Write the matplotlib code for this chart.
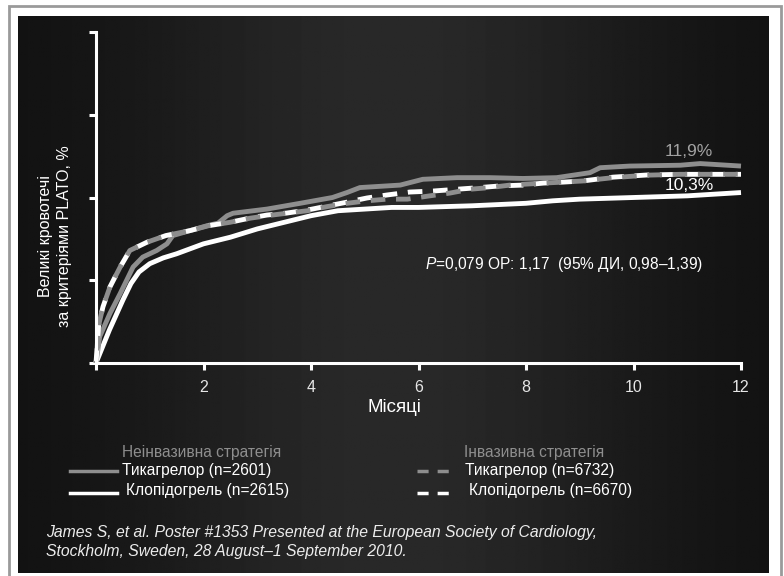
import numpy as np
import matplotlib.pyplot as plt
from matplotlib.patches import Rectangle
from matplotlib.lines import Line2D

plt.rcParams['font.family'] = ['Liberation Sans', 'DejaVu Sans']
plt.rcParams['mathtext.fontset'] = 'custom'
plt.rcParams['mathtext.it'] = 'Liberation Sans:italic'
plt.rcParams['mathtext.rm'] = 'Liberation Sans'

# Неінвазивна стратегія
tica_ni_x = [0, 0.07, 0.26, 0.45, 0.69, 0.87, 1.13, 1.32, 1.43, 1.75, 2.07, 2.27, 2.44, 2.55,
             3.18, 3.8, 4.4, 4.67, 4.91, 5.66, 6.08, 6.72, 7.33, 7.94, 8.57, 9.19, 9.38,
             9.93, 10.87, 11.24, 12.0]
tica_ni_y = [0, 1.6, 3.0, 4.2, 5.8, 6.4, 6.8, 7.2, 7.7, 8.0, 8.3, 8.45, 8.9, 9.05,
             9.3, 9.65, 10.0, 10.3, 10.6, 10.75, 11.1, 11.2, 11.2, 11.15, 11.2, 11.5, 11.8,
             11.9, 11.95, 12.05, 11.9]
clop_ni_x = [0, 0.25, 0.5, 0.65, 0.8, 1.0, 1.25, 1.5, 2.0, 2.5, 3.0, 3.5, 4.0, 4.5, 5.0, 5.5,
             6.0, 7.0, 8.0, 8.5, 9.0, 10.0, 11.0, 12.0]
clop_ni_y = [0, 2.0, 3.8, 4.8, 5.5, 6.0, 6.35, 6.6, 7.2, 7.6, 8.1, 8.5, 8.9, 9.2, 9.3, 9.4,
             9.4, 9.5, 9.65, 9.8, 9.9, 10.0, 10.1, 10.3]

# Інвазивна стратегія
tica_inv_x = [0, 0.05, 0.13, 0.26, 0.45, 0.63, 0.95, 1.3, 1.75, 2.1, 2.49, 2.87, 3.18, 3.55,
              3.93, 4.3, 4.67, 5.04, 5.41, 5.79, 6.21, 6.59, 6.96, 7.33, 7.7, 8.32, 8.69,
              9.06, 9.62, 10.25, 10.87, 12.0]
tica_inv_y = [0, 2.3, 3.4, 4.6, 5.8, 6.8, 7.3, 7.7, 8.0, 8.3, 8.5, 8.75, 8.9, 9.05,
              9.2, 9.45, 9.65, 9.8, 9.9, 9.9, 10.1, 10.27, 10.5, 10.6, 10.75, 10.87, 10.93,
              11.0, 11.2, 11.35, 11.4, 11.4]
clop_inv_x = [0, 0.05, 0.13, 0.26, 0.45, 0.63, 0.95, 1.3, 1.75, 2.1, 2.49, 2.87, 3.18, 3.55,
              3.93, 4.3, 4.67, 5.04, 5.41, 5.84, 6.27, 6.72, 7.14, 7.52, 7.94, 8.32, 8.69,
              9.06, 9.62, 10.25, 10.87, 12.0]
clop_inv_y = [0, 2.3, 3.4, 4.6, 5.8, 6.8, 7.3, 7.7, 8.0, 8.3, 8.5, 8.76, 8.94, 9.06,
              9.24, 9.48, 9.72, 9.97, 10.15, 10.33, 10.39, 10.5, 10.6, 10.7, 10.75, 10.87, 10.93,
              11.0, 11.23, 11.36, 11.4, 11.4]

x_ticks = [0, 2, 4, 6, 8, 10, 12]
x_labels = ['', '2', '4', '6', '8', '10', '12']
y_ticks = [0, 5, 10, 15, 20]

GRAY = '#8e8e8e'
W, H = 784, 576


def fx(x):
    return x / W


def fy(y):
    return 1 - y / H


fig = plt.figure(figsize=(7.84, 5.76), dpi=100)
fig.patch.set_facecolor('white')
fig.patches.append(Rectangle((fx(9), fy(580)), fx(781) - fx(9), fy(6) - fy(580),
                             transform=fig.transFigure, fill=False, ec='#9a9a9a', lw=2))

# темний фон з градієнтом
bg = fig.add_axes([fx(18), fy(573), fx(769) - fx(18), fy(16) - fy(573)])
t = np.linspace(0, 1, 400)
row = 0.06 + 0.10 * np.exp(-((t - 0.5) / 0.35) ** 2)
bg.imshow(np.tile(row, (10, 1)), aspect='auto', cmap='gray', vmin=0, vmax=1)
bg.axis('off')

ax = fig.add_axes([fx(96), fy(363), fx(741) - fx(96), fy(32) - fy(363)])
ax.patch.set_alpha(0)

ax.plot(clop_ni_x, clop_ni_y, color='white', lw=3.5, solid_capstyle='butt', clip_on=False)
ax.plot(tica_ni_x, tica_ni_y, color=GRAY, lw=3.5, solid_capstyle='butt', clip_on=False)
ax.plot(clop_inv_x, clop_inv_y, color='white', lw=3.5, linestyle=(0, (3, 2.2)), clip_on=False)
ax.plot(tica_inv_x, tica_inv_y, color=GRAY, lw=3.5, linestyle=(2.6, (3, 2.2)), clip_on=False)

ax.set_xlim(0, 12)
ax.set_ylim(0, 20)
for s in ['top', 'right']:
    ax.spines[s].set_visible(False)
for s in ['left', 'bottom']:
    ax.spines[s].set_color('white')
    ax.spines[s].set_linewidth(2.2)
ax.set_xticks(x_ticks)
ax.set_xticklabels(x_labels)
ax.set_yticks(y_ticks)
ax.set_yticklabels([])
ax.tick_params(direction='out', length=5, width=2.2, color='white',
               labelcolor='#e6e6e6', labelsize=11.5, pad=7)
ax.set_xlabel('Місяці', color='white', fontsize=13.5)
ax.xaxis.set_label_coords((394 - 96) / 645, -(408 - 363) / 331)
ax.xaxis.label.set_va('center')

fig.text(fx(55), fy(236), 'Великі кровотечі\nза критеріями PLATO, %', rotation=90,
         ha='center', va='center', multialignment='center', color='white', fontsize=11.5,
         linespacing=1.35)

ax.text(11.03, 12.75, '11,9%', color='#a2a2a2', fontsize=12.5, ha='center', va='center')
ax.text(11.03, 10.75, '10,3%', color='white', fontsize=12.5, ha='center', va='center')
fig.text(fx(425), fy(265), r'$\mathit{P}$=0,079 ОР: 1,17  (95% ДИ, 0,98–1,39)',
         color='white', fontsize=11.2, ha='left', va='center')

# легенда
FS = 11.2
fig.text(fx(122), fy(452), 'Неінвазивна стратегія', color=GRAY, fontsize=FS, va='center')
fig.lines.append(Line2D([fx(70), fx(117)], [fy(471), fy(471)], transform=fig.transFigure,
                        color=GRAY, lw=2.5))
fig.text(fx(122), fy(471), 'Тикагрелор (n=2601)', color='white', fontsize=FS, va='center')
fig.lines.append(Line2D([fx(70), fx(117)], [fy(493), fy(493)], transform=fig.transFigure,
                        color='white', lw=2.5))
fig.text(fx(126), fy(490), 'Клопідогрель (n=2615)', color='white', fontsize=FS, va='center')

fig.text(fx(464), fy(452), 'Інвазивна стратегія', color=GRAY, fontsize=FS, va='center')
fig.lines.append(Line2D([fx(417), fx(449)], [fy(471), fy(471)], transform=fig.transFigure,
                        color=GRAY, lw=2.5, linestyle=(0, (3.2, 2.6))))
fig.text(fx(465), fy(471), 'Тикагрелор (n=6732)', color='white', fontsize=FS, va='center')
fig.lines.append(Line2D([fx(417), fx(449)], [fy(493), fy(493)], transform=fig.transFigure,
                        color='white', lw=2.5, linestyle=(0, (3.2, 2.6))))
fig.text(fx(469), fy(490), 'Клопідогрель (n=6670)', color='white', fontsize=FS, va='center')

fig.text(fx(46), fy(542), 'James S, et al. Poster #1353 Presented at the European Society of Cardiology,\n'
         'Stockholm, Sweden, 28 August–1 September 2010.', color='#ececec', fontsize=11.3,
         style='italic', va='center', linespacing=1.3)

fig.savefig('out.png', dpi=100, facecolor='white')
